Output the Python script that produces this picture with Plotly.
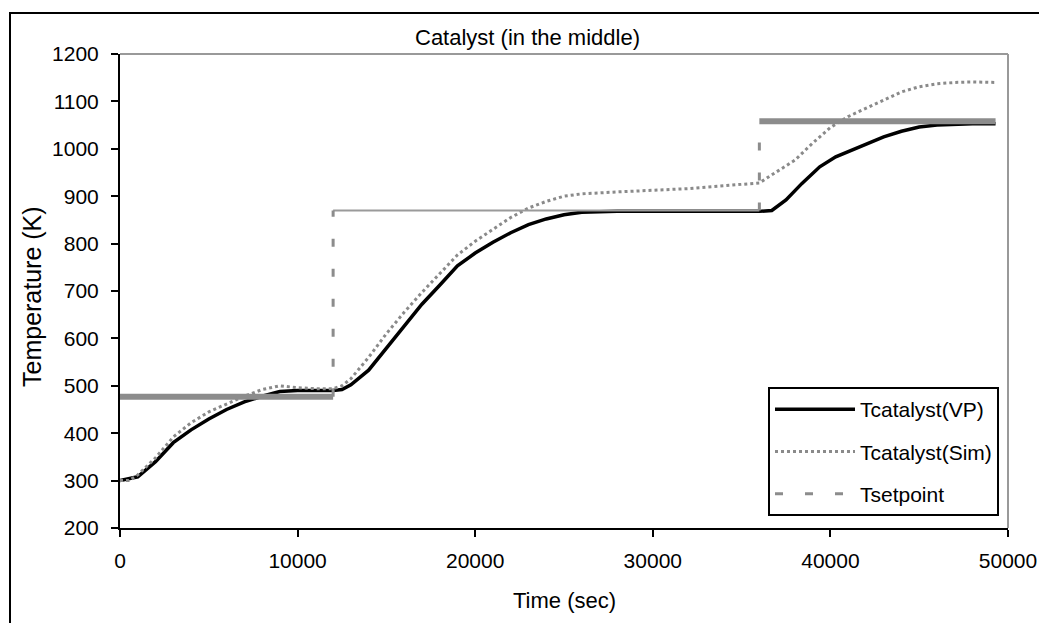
import plotly.graph_objects as go

# ---- data ----
time_vp = [0, 1000, 2000, 3000, 4000, 5000, 6000, 7000, 8000, 9000, 10000, 11000, 12000,
           12500, 13000, 14000, 15000, 16000, 17000, 18000, 19000, 20000, 21000, 22000,
           23000, 24000, 25000, 26000, 28000, 30000, 32000, 34000, 36000, 36700, 37500,
           38400, 39400, 40300, 41200, 42000, 43000, 44000, 45000, 46000, 47000, 48000, 49300]
t_vp = [300, 308, 340, 380, 407, 430, 450, 466, 478, 488, 490, 490, 490,
        492, 502, 533, 580, 625, 672, 712, 753, 780, 803, 823,
        840, 852, 861, 866, 868, 868, 868, 868, 868, 870, 892,
        927, 962, 983, 997, 1010, 1025, 1037, 1046, 1050, 1052, 1053, 1053]

time_sim = [0, 500, 1000, 2000, 3000, 4000, 5000, 6000, 7000, 8000, 9000, 10000, 11000, 12000,
            12500, 13000, 14000, 15000, 16000, 17000, 18000, 19000, 20000, 21000, 22000,
            23000, 24000, 25000, 26000, 28000, 30000, 32000, 34000, 36000, 36700, 37000,
            38000, 39000, 40000, 41000, 42000, 43000, 44000, 45000, 46000, 47000, 48000, 49300]
t_sim = [300, 300, 312, 348, 392, 422, 445, 462, 478, 492, 500, 496, 494, 494,
         500, 515, 560, 610, 655, 697, 737, 776, 805, 830, 855,
         875, 889, 900, 905, 909, 912, 916, 922, 928, 945, 952,
         976, 1012, 1045, 1068, 1085, 1102, 1120, 1131, 1137, 1140, 1141, 1140]

sp_edges = [0, 12000, 36000, 49300]
sp_levels = [477, 870, 1058]

x_ticks = [0, 10000, 20000, 30000, 40000, 50000]
x_labels = ["0", "10000", "20000", "30000", "40000", "50000"]
y_ticks = [200, 300, 400, 500, 600, 700, 800, 900, 1000, 1100, 1200]

FONT = "Arial, Liberation Sans, sans-serif"

PL, PR, PT, PB = 120, 1008, 54, 528   # plot area in page pixels
W, H = 1039, 623


def px(xp):
    return (xp - PL) / (PR - PL)


def py(yp):
    return (PB - yp) / (PB - PT)


fig = go.Figure()

fig.add_trace(go.Scatter(x=time_vp, y=t_vp, mode="lines", name="Tcatalyst(VP)",
                         line=dict(color="black", width=3.5), legendgroup="a"))
fig.add_trace(go.Scatter(x=time_sim, y=t_sim, mode="lines", name="Tcatalyst(Sim)",
                         line=dict(color="#8a8a8a", width=3, dash="dot"), legendgroup="b"))

sp_widths = [6, 2, 6]
sp_colors = ["#8c8c8c", "#9a9a9a", "#8c8c8c"]
for i, lvl in enumerate(sp_levels):
    fig.add_trace(go.Scatter(x=[sp_edges[i], sp_edges[i + 1]], y=[lvl, lvl], mode="lines",
                             showlegend=False, legendgroup="c",
                             line=dict(color=sp_colors[i], width=sp_widths[i])))
for i in range(len(sp_levels) - 1):
    fig.add_trace(go.Scatter(x=[sp_edges[i + 1], sp_edges[i + 1]],
                             y=[sp_levels[i], sp_levels[i + 1]], mode="lines",
                             name="Tsetpoint", showlegend=(i == 0), legendgroup="c",
                             line=dict(color="#8c8c8c", width=3, dash="8px,22px")))

fig.update_layout(
    width=W, height=H,
    margin=dict(l=PL, r=W - PR, t=PT, b=H - PB, autoexpand=False),
    paper_bgcolor="white", plot_bgcolor="white",
    font=dict(family=FONT, size=21, color="black"),
    showlegend=True,
    legend=dict(x=px(999), y=py(516), xanchor="right", yanchor="bottom",
                bordercolor="black", borderwidth=2, bgcolor="white",
                font=dict(size=21), traceorder="grouped", tracegroupgap=12,
                itemwidth=80),
    xaxis=dict(range=[0, 50000], tickvals=x_ticks, ticktext=x_labels, showgrid=False,
               zeroline=False, showline=True, linecolor="black", linewidth=2,
               ticks="outside", ticklen=7, tickwidth=2, tickcolor="black",
               ticklabelstandoff=6, tickfont=dict(size=21)),
    yaxis=dict(range=[200, 1200], tickvals=y_ticks, showgrid=False, zeroline=False,
               showline=True, linecolor="black", linewidth=2, ticks="outside",
               ticklen=7, tickwidth=2, tickcolor="black", ticklabelstandoff=8,
               tickfont=dict(size=21)),
    annotations=[
        dict(text="Catalyst (in the middle)", xref="paper", yref="paper",
             x=px(527), y=py(38), xanchor="center", yanchor="middle",
             showarrow=False, font=dict(size=22)),
        dict(text="Time (sec)", xref="paper", yref="paper",
             x=px(564), y=py(600), xanchor="center", yanchor="middle",
             showarrow=False, font=dict(size=22)),
        dict(text="Temperature (K)", xref="paper", yref="paper", textangle=-90,
             x=px(32), y=py(297), xanchor="center", yanchor="middle",
             showarrow=False, font=dict(size=25)),
    ],
    shapes=[
        dict(type="line", xref="paper", yref="paper", x0=0, x1=1, y0=1, y1=1,
             line=dict(color="#999999", width=2)),
        dict(type="line", xref="paper", yref="paper", x0=1, x1=1, y0=0, y1=1,
             line=dict(color="#999999", width=2)),
        dict(type="rect", xref="paper", yref="paper", x0=px(10), x1=1.2,
             y0=-0.5, y1=py(13), line=dict(color="black", width=2)),
    ],
)

fig.write_html("out.html", config={"displayModeBar": False},
               post_script="document.body.style.margin='0px';document.body.style.overflow='hidden';")
